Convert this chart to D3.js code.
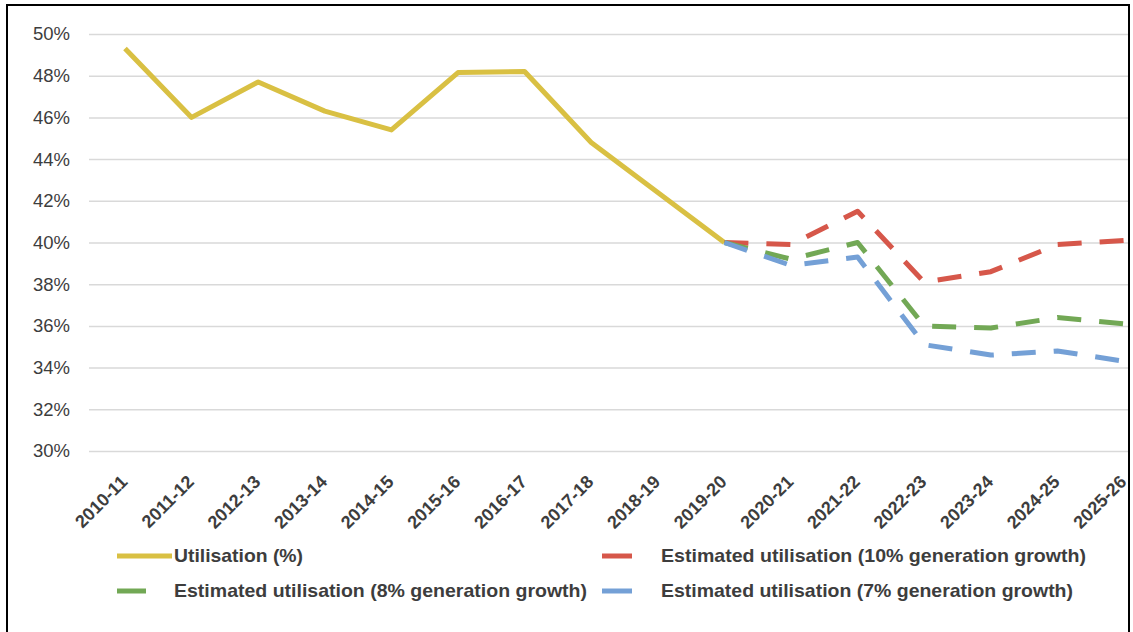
<!DOCTYPE html>
<html>
<head>
<meta charset="utf-8">
<script src="https://cdn.jsdelivr.net/npm/d3@7/dist/d3.min.js"></script>
<style>
  html, body { margin: 0; padding: 0; background: #fff; }
  svg { display: block; }
  text { font-family: "Liberation Sans", Arial, sans-serif; fill: #3d3d3d; }
</style>
</head>
<body>
<svg id="chart" width="1133" height="632"></svg>
<script>
// Financial years on the category axis
const categories = ["2010-11","2011-12","2012-13","2013-14","2014-15","2015-16","2016-17","2017-18",
                    "2018-19","2019-20","2020-21","2021-22","2022-23","2023-24","2024-25","2025-26"];

// Utilisation (%) — actuals
const utilisation = [49.3, 46.0, 47.7, 46.3, 45.4, 48.15, 48.2, 44.8, 42.4, 40.0,
                     null, null, null, null, null, null];

// Estimated utilisation under different generation growth assumptions
const est10 = [null, null, null, null, null, null, null, null, null, 40.0, 39.9, 41.5, 38.1, 38.6, 39.9, 40.1];
const est8  = [null, null, null, null, null, null, null, null, null, 40.0, 39.2, 40.0, 36.0, 35.9, 36.4, 36.1];
const est7  = [null, null, null, null, null, null, null, null, null, 40.0, 38.9, 39.3, 35.1, 34.6, 34.8, 34.3];

// Y axis ticks (%)
const yTicks = [30, 32, 34, 36, 38, 40, 42, 44, 46, 48, 50];

const seriesNames = ["Utilisation (%)",
                     "Estimated utilisation (10% generation growth)",
                     "Estimated utilisation (8% generation growth)",
                     "Estimated utilisation (7% generation growth)"];

const svg = d3.select("#chart");

const x = d3.scalePoint().domain(categories).range([125, 1124]);
const y = d3.scaleLinear().domain([30, 50]).range([451, 34]);

// outer frame
svg.append("path")
  .attr("d", "M7,632 L7,5 L1129,5 L1129,632")
  .attr("fill", "none").attr("stroke", "#000").attr("stroke-width", 2);

// horizontal gridlines
const gridAxis = d3.axisLeft(y).tickValues(yTicks).tickSize(-(1128 - 89)).tickFormat("");
const grid = svg.append("g").attr("transform", "translate(89,0)").call(gridAxis);
grid.select(".domain").remove();
grid.selectAll(".tick line").attr("stroke", "#d9d9d9").attr("stroke-width", 1.5);

// y tick labels
const yAxis = d3.axisLeft(y).tickValues(yTicks).tickSize(0).tickPadding(0).tickFormat(d => d + "%");
const ya = svg.append("g").attr("transform", "translate(70,0)").call(yAxis);
ya.select(".domain").remove();
ya.selectAll(".tick text")
  .attr("font-family", "Liberation Sans, Arial, sans-serif")
  .attr("font-size", 18.5).attr("fill", "#404040");

// x tick labels, rotated
const xAxis = d3.axisBottom(x).tickSize(0).tickPadding(0);
const xa = svg.append("g").attr("transform", "translate(0,451)").call(xAxis);
xa.select(".domain").remove();
xa.selectAll(".tick text")
  .attr("font-family", "Liberation Sans, Arial, sans-serif")
  .attr("font-size", 18).attr("font-weight", "bold").attr("fill", "#2e2e2e")
  .attr("text-anchor", "end")
  .attr("dy", null)
  .attr("y", 0)
  .attr("transform", "translate(3,32) rotate(-45)");

const line = d3.line()
  .defined(d => d.v != null)
  .x(d => x(d.c))
  .y(d => y(d.v));

const toPts = arr => categories.map((c, i) => ({ c, v: arr[i] }));

const series = [
  { values: utilisation, color: "#D9C043", dash: null },
  { values: est10, color: "#D6574A", dash: "24,18" },
  { values: est8,  color: "#72A855", dash: "24,18" },
  { values: est7,  color: "#74A0D6", dash: "24,18" }
];

series.forEach(s => {
  svg.append("path")
    .datum(toPts(s.values))
    .attr("d", line)
    .attr("fill", "none")
    .attr("stroke", s.color)
    .attr("stroke-width", 5)
    .attr("stroke-linejoin", "round")
    .attr("stroke-dasharray", s.dash);
});

// legend
const legendItems = [
  { name: seriesNames[0], color: series[0].color, sx: 117, len: 55, tx: 174, ty: 556, w: 129 },
  { name: seriesNames[1], color: series[1].color, sx: 602, len: 30, tx: 661, ty: 556, w: 425 },
  { name: seriesNames[2], color: series[2].color, sx: 117, len: 29, tx: 174, ty: 591, w: 413 },
  { name: seriesNames[3], color: series[3].color, sx: 602, len: 30, tx: 661, ty: 591, w: 412 }
];
const lg = svg.append("g");
legendItems.forEach(it => {
  lg.append("line")
    .attr("x1", it.sx).attr("x2", it.sx + it.len)
    .attr("y1", it.ty).attr("y2", it.ty)
    .attr("stroke", it.color).attr("stroke-width", 5);
  lg.append("text")
    .attr("x", it.tx).attr("y", it.ty).attr("dy", "0.35em")
    .attr("font-size", 18.5).attr("font-weight", "bold").attr("fill", "#3d3d3d")
    .attr("textLength", it.w).attr("lengthAdjust", "spacingAndGlyphs")
    .text(it.name);
});
</script>
</body>
</html>
